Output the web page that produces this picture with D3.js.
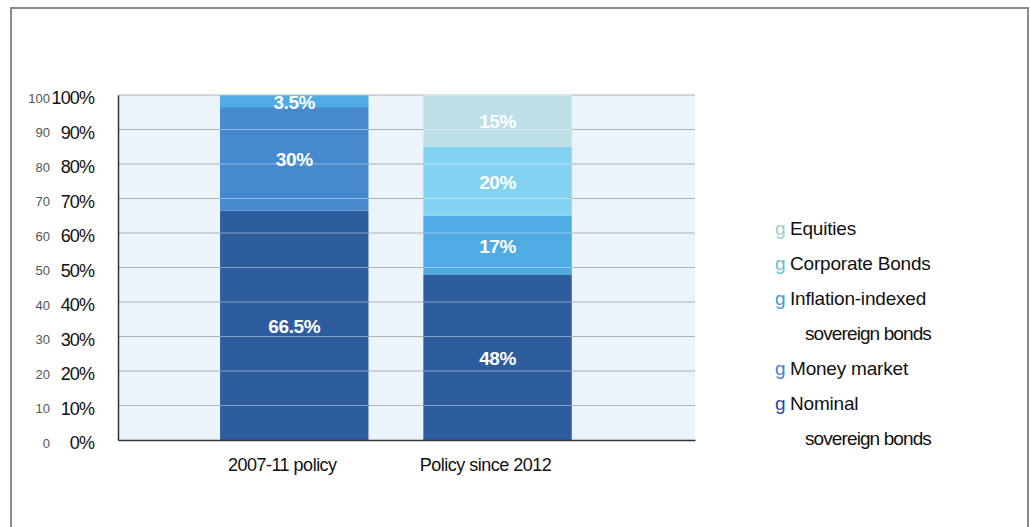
<!DOCTYPE html>
<html>
<head>
<meta charset="utf-8">
<script src="https://cdn.jsdelivr.net/npm/d3@7/dist/d3.min.js"></script>
<style>
  body { margin: 0; background: #fff; }
  svg { display: block; font-family: "Liberation Sans", Arial, sans-serif; }
</style>
</head>
<body>
<svg id="chart" width="1030" height="527"></svg>
<script>
// ----------------------------------------------------------------------------
// Data
// ----------------------------------------------------------------------------

var categories = ["2007-11 policy", "Policy since 2012"];

// Asset classes, bottom of the stack first.
var assetClasses = ["Nominal sovereign bonds", "Money market",
                    "Inflation-indexed sovereign bonds", "Corporate Bonds", "Equities"];

// Share of portfolio (%) per category.
var nominalBonds   = [66.5, 48];
var moneyMarket    = [30, 0];
var inflationBonds = [3.5, 17];
var corporateBonds = [0, 20];
var equities       = [0, 15];

var yTicks = [0, 10, 20, 30, 40, 50, 60, 70, 80, 90, 100];

// Legend, top line first. Each entry is [marker shown?, text].
var legendLines = [
    [true, "Equities"],
    [true, "Corporate Bonds"],
    [true, "Inflation-indexed"],
    [false, "sovereign bonds"],
    [true, "Money market"],
    [true, "Nominal"],
    [false, "sovereign bonds"]
];

// Fill colours, same order as assetClasses.
var fills = ["#2d5d9e", "#4689cf", "#4fabe3", "#82d3f1", "#bde0e7"];
// Legend marker colours, top line first.
var markerColors = ["#9dd0d6", "#62c3cd", "#3d9fd6", "#4a7ed6", "#1f4a9f"];


// ----------------------------------------------------------------------------
// Drawing
// ----------------------------------------------------------------------------

function drawChart() {
    var svg = d3.select("#chart");

    // frame round the figure (bottom edge is cut off)
    svg.append("path")
        .attr("d", "M11,540V8H1028V540")
        .attr("fill", "none")
        .attr("stroke", "#8a8a8a")
        .attr("stroke-width", 2);

    var plot = {left: 118, right: 695, top: 95, bottom: 440};

    var x = d3.scaleBand()
        .domain(categories)
        .range([plot.left, plot.right])
        .paddingInner(0.27)
        .paddingOuter(0.554)
        .align(0.453);

    var y = d3.scaleLinear()
        .domain([0, 100])
        .range([plot.bottom, plot.top]);

    // build the table for d3.stack
    var series = [nominalBonds, moneyMarket, inflationBonds, corporateBonds, equities];
    var table = categories.map(function(c, i) {
        var row = {category: c};
        assetClasses.forEach(function(a, j) { row[a] = series[j][i]; });
        return row;
    });
    var stacked = d3.stack().keys(assetClasses)(table);

    // plot background
    svg.append("rect")
        .attr("x", plot.left)
        .attr("y", plot.top)
        .attr("width", plot.right - plot.left)
        .attr("height", plot.bottom - plot.top)
        .attr("fill", "#ebf3fb");

    // gridlines behind the bars
    svg.append("g").selectAll("line")
        .data(yTicks.slice(1))
        .enter().append("line")
        .attr("x1", plot.left)
        .attr("x2", plot.right)
        .attr("y1", function(d) { return y(d); })
        .attr("y2", function(d) { return y(d); })
        .attr("stroke", "#b2b2b2")
        .attr("stroke-width", 1.2);

    // stacked bars
    var layers = svg.append("g").selectAll("g")
        .data(stacked)
        .enter().append("g")
        .attr("fill", function(d, i) { return fills[i]; });

    layers.selectAll("rect")
        .data(function(d) { return d; })
        .enter().append("rect")
        .attr("x", function(d) { return x(d.data.category); })
        .attr("y", function(d) { return y(d[1]); })
        .attr("width", x.bandwidth())
        .attr("height", function(d) { return y(d[0]) - y(d[1]); });

    // gridlines show through the bars, lighter
    categories.forEach(function(c) {
        svg.append("g").selectAll("line")
            .data(yTicks.slice(1))
            .enter().append("line")
            .attr("x1", x(c))
            .attr("x2", x(c) + x.bandwidth())
            .attr("y1", function(d) { return y(d); })
            .attr("y2", function(d) { return y(d); })
            .attr("stroke", "#ffffff")
            .attr("stroke-opacity", 0.42)
            .attr("stroke-width", 1.2);
    });

    // value labels in the segments
    layers.selectAll("text")
        .data(function(d) { return d.filter(function(s) { return s[1] - s[0] > 0; }); })
        .enter().append("text")
        .attr("x", function(d) { return x(d.data.category) + x.bandwidth() / 2; })
        .attr("y", function(d) { return y((d[0] + d[1]) / 2) + 1; })
        .attr("text-anchor", "middle")
        .attr("dominant-baseline", "central")
        .attr("fill", "#ffffff")
        .attr("font-size", "19px")
        .attr("font-weight", "bold")
        .attr("letter-spacing", "-0.4px")
        .text(function(d) { return (d[1] - d[0]) + "%"; });

    // small plain numbers on the far left
    var yAxisSmall = svg.append("g")
        .attr("transform", "translate(" + plot.left + ",0)")
        .call(d3.axisLeft(y).tickValues(yTicks).tickSize(0).tickPadding(68));
    yAxisSmall.select(".domain").remove();
    yAxisSmall.selectAll("text")
        .attr("font-family", "Liberation Sans, Arial, sans-serif")
        .attr("font-size", "13px")
        .attr("fill", "#555")
        .attr("transform", "translate(0,3)");

    // percent labels + axis line
    var yAxis = svg.append("g")
        .attr("transform", "translate(" + plot.left + ",0)")
        .call(d3.axisLeft(y).tickValues(yTicks).tickSize(0).tickSizeOuter(0)
              .tickPadding(24).tickFormat(function(d) { return d + "%"; }));
    yAxis.select(".domain").attr("stroke", "#333").attr("stroke-width", 1.5);
    yAxis.selectAll("text")
        .attr("font-family", "Liberation Sans, Arial, sans-serif")
        .attr("font-size", "18px")
        .attr("letter-spacing", "-0.9px")
        .attr("fill", "#111")
        .attr("transform", "translate(0,3)");

    // category axis
    var xAxis = svg.append("g")
        .attr("transform", "translate(0," + plot.bottom + ")")
        .call(d3.axisBottom(x).tickSize(0).tickSizeOuter(0).tickPadding(18));
    xAxis.select(".domain").attr("stroke", "#333").attr("stroke-width", 1.5);
    xAxis.selectAll("text")
        .attr("font-family", "Liberation Sans, Arial, sans-serif")
        .attr("font-size", "18px")
        .attr("letter-spacing", "-0.5px")
        .attr("fill", "#111")
        .attr("dx", -12);

    // legend
    var legend = svg.append("g");
    var m = 0;
    legendLines.forEach(function(line, i) {
        var ly = 228 + i * 35;
        if (line[0]) {
            legend.append("text")
                .attr("x", 775)
                .attr("y", ly)
                .attr("dominant-baseline", "central")
                .attr("font-size", "19px")
                .attr("fill", markerColors[m])
                .text("g");
            m += 1;
        }
        legend.append("text")
            .attr("x", line[0] ? 790 : 805)
            .attr("y", ly)
            .attr("dominant-baseline", "central")
            .attr("font-size", "19px")
            .attr("letter-spacing", line[0] ? "-0.2px" : "-0.9px")
            .attr("fill", "#111")
            .text(line[1]);
    });
}

drawChart();
</script>
</body>
</html>
